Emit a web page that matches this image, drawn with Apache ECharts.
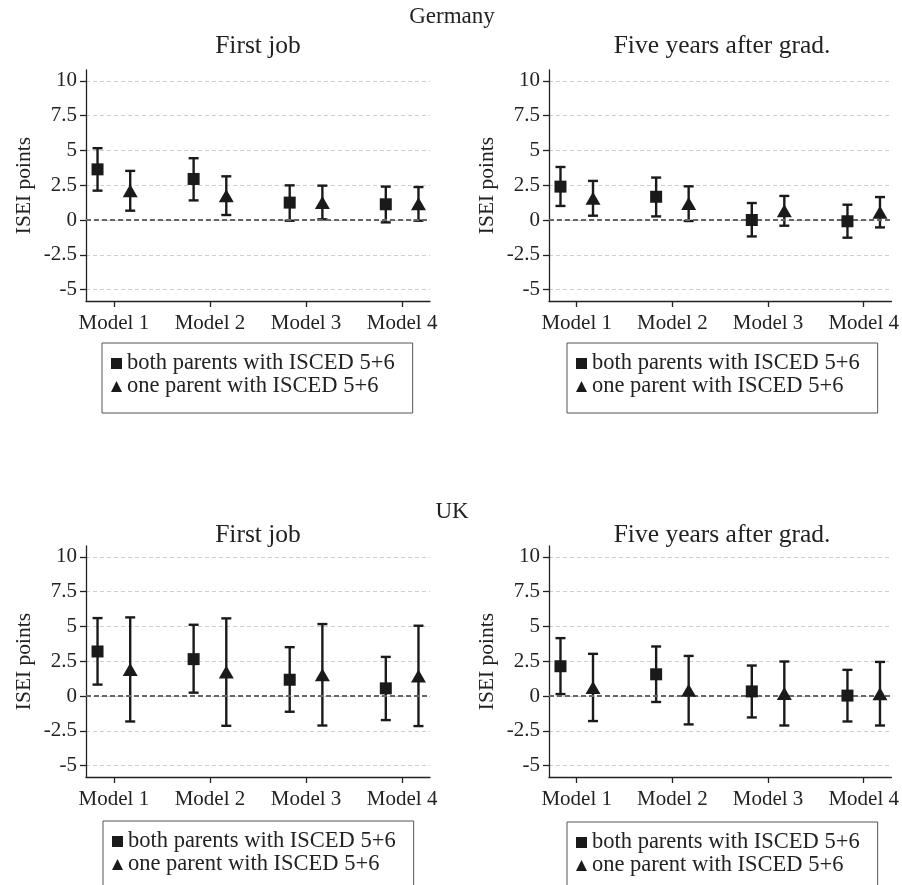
<!DOCTYPE html>
<html>
<head>
<meta charset="utf-8">
<script src="https://cdn.jsdelivr.net/npm/echarts@6/dist/echarts.min.js"></script>
<style>html,body{margin:0;padding:0;background:#fff;}#chart{width:902px;height:885px;}</style>
</head>
<body>
<div id="chart"></div>
<script>
// ---- data ----
const models = ['Model 1', 'Model 2', 'Model 3', 'Model 4'];
const yTicks = [-5, -2.5, 0, 2.5, 5, 7.5, 10];
const seriesNames = ['both parents with ISCED 5+6', 'one parent with ISCED 5+6'];
const countries = ['Germany', 'UK'];
const panelTitles = ['First job', 'Five years after grad.'];

// Germany, first job
const deFirstBoth = [3.64, 2.95, 1.25, 1.13];
const deFirstBothLo = [2.11, 1.41, -0.05, -0.17];
const deFirstBothHi = [5.16, 4.44, 2.49, 2.40];
const deFirstOne = [2.10, 1.75, 1.26, 1.16];
const deFirstOneLo = [0.67, 0.36, 0.05, -0.05];
const deFirstOneHi = [3.53, 3.14, 2.47, 2.37];
// Germany, five years after graduation
const deFiveBoth = [2.40, 1.67, 0.00, -0.09];
const deFiveBothLo = [1.01, 0.26, -1.18, -1.27];
const deFiveBothHi = [3.81, 3.05, 1.22, 1.10];
const deFiveOne = [1.56, 1.18, 0.66, 0.56];
const deFiveOneLo = [0.31, -0.07, -0.41, -0.53];
const deFiveOneHi = [2.81, 2.42, 1.73, 1.65];
// UK, first job
const ukFirstBoth = [3.20, 2.65, 1.17, 0.55];
const ukFirstBothLo = [0.82, 0.24, -1.13, -1.73];
const ukFirstBothHi = [5.60, 5.12, 3.51, 2.81];
const ukFirstOne = [1.91, 1.72, 1.53, 1.44];
const ukFirstOneLo = [-1.83, -2.14, -2.12, -2.16];
const ukFirstOneHi = [5.65, 5.58, 5.17, 5.05];
// UK, five years after graduation
const ukFiveBoth = [2.14, 1.56, 0.33, 0.03];
const ukFiveBothLo = [0.14, -0.43, -1.54, -1.83];
const ukFiveBothHi = [4.16, 3.56, 2.19, 1.88];
const ukFiveOne = [0.61, 0.42, 0.18, 0.17];
const ukFiveOneLo = [-1.80, -2.04, -2.12, -2.12];
const ukFiveOneHi = [3.03, 2.88, 2.48, 2.45];

// ---- layout / style ----
const FONT = '"Liberation Serif", "Times New Roman", serif';
const INK = '#1a1a1a';
const OFFSET = 0.17;
const panels = [
  {grid: {left: 86, top: 70, width: 344, height: 231}, both: [deFirstBoth, deFirstBothLo, deFirstBothHi], one: [deFirstOne, deFirstOneLo, deFirstOneHi]},
  {grid: {left: 549, top: 70, width: 345, height: 231}, both: [deFiveBoth, deFiveBothLo, deFiveBothHi], one: [deFiveOne, deFiveOneLo, deFiveOneHi]},
  {grid: {left: 86, top: 546, width: 344, height: 231}, both: [ukFirstBoth, ukFirstBothLo, ukFirstBothHi], one: [ukFirstOne, ukFirstOneLo, ukFirstOneHi]},
  {grid: {left: 549, top: 546, width: 345, height: 231}, both: [ukFiveBoth, ukFiveBothLo, ukFiveBothHi], one: [ukFiveOne, ukFiveOneLo, ukFiveOneHi]}
];
const modelPos = models.map((m, i) => i + 1);

const grids = [], xAxes = [], yAxes = [], series = [];
panels.forEach((p, k) => {
  grids.push(Object.assign({containLabel: false}, p.grid));
  xAxes.push({
    type: 'value', gridIndex: k, min: 0.71, max: 4.29,
    axisLine: {show: true, onZero: false, lineStyle: {color: '#222', width: 1.3}},
    axisTick: {show: true, length: 6, customValues: modelPos, lineStyle: {color: '#222', width: 1.3}},
    axisLabel: {customValues: modelPos, formatter: v => models[Math.round(v) - 1] || '', fontFamily: FONT, fontSize: 21, color: '#222', margin: 12},
    splitLine: {show: false}
  });
  yAxes.push({
    type: 'value', gridIndex: k, min: -5.82, max: 10.78,
    name: 'ISEI points', nameLocation: 'middle', nameGap: 51,
    nameTextStyle: {fontFamily: FONT, fontSize: 21.5, color: '#222'},
    axisLine: {show: true, onZero: false, lineStyle: {color: '#222', width: 1.3}},
    axisTick: {show: true, length: 6, customValues: yTicks, lineStyle: {color: '#222', width: 1.3}},
    axisLabel: {customValues: yTicks, formatter: v => String(v), fontFamily: FONT, fontSize: 21, color: '#222', margin: 9},
    splitLine: {show: true, lineStyle: {color: '#cfcfcf', type: [4, 3], width: 1}}
  });
  // zero reference line
  series.push({
    type: 'line', xAxisIndex: k, yAxisIndex: k, data: [], z: 1, silent: true,
    markLine: {silent: true, symbol: 'none', label: {show: false},
      lineStyle: {color: '#666', type: [5, 3], width: 2},
      data: [{yAxis: 0}]}
  });
  [[p.both, -OFFSET, 0, 'rect', 12], [p.one, OFFSET, 1, 'triangle', [15, 13]]].forEach(([d, off, si, sym, size]) => {
    const [est, lo, hi] = d;
    series.push({
      type: 'custom', name: seriesNames[si] + ' CI', xAxisIndex: k, yAxisIndex: k, z: 3,
      data: est.map((v, i) => [modelPos[i] + off, lo[i], hi[i]]),
      renderItem: (params, api) => {
        const x = api.value(0);
        const top = api.coord([x, api.value(2)]);
        const bot = api.coord([x, api.value(1)]);
        const cap = 5;
        const st = {stroke: INK, lineWidth: 2.4};
        return {type: 'group', children: [
          {type: 'line', shape: {x1: top[0], y1: top[1], x2: bot[0], y2: bot[1]}, style: st},
          {type: 'line', shape: {x1: top[0] - cap, y1: top[1], x2: top[0] + cap, y2: top[1]}, style: st},
          {type: 'line', shape: {x1: bot[0] - cap, y1: bot[1], x2: bot[0] + cap, y2: bot[1]}, style: st}
        ]};
      }
    });
    series.push({
      type: 'scatter', name: seriesNames[si], xAxisIndex: k, yAxisIndex: k, z: 5,
      symbol: sym, symbolSize: size, itemStyle: {color: INK, opacity: 1},
      data: est.map((v, i) => [modelPos[i] + off, v])
    });
  });
});

const legendPos = [[102, 343], [567, 343], [103, 821], [567, 822]];
const legends = legendPos.map(([l, t]) => ({
  left: l, top: t, orient: 'vertical', height: 120, width: 400,
  data: [{name: seriesNames[0], icon: 'rect'}, {name: seriesNames[1], icon: 'triangle'}],
  itemWidth: 11, itemHeight: 11, itemGap: 0,
  padding: [9, 18, 15, 9],
  borderColor: '#555', borderWidth: 1, selectedMode: false,
  textStyle: {fontFamily: FONT, fontSize: 22.5, color: '#222', lineHeight: 22}
}));

const texts = [
  {x: 452, y: 17, t: countries[0], s: 23},
  {x: 258, y: 46, t: panelTitles[0], s: 25.5},
  {x: 722, y: 46, t: panelTitles[1], s: 25.5},
  {x: 452, y: 512, t: countries[1], s: 23},
  {x: 258, y: 535, t: panelTitles[0], s: 25.5},
  {x: 722, y: 535, t: panelTitles[1], s: 25.5}
];
const graphic = texts.map(o => ({
  type: 'text', x: o.x, y: o.y, silent: true,
  style: {text: o.t, fontFamily: FONT, fontSize: o.s, fill: '#222', textAlign: 'center', textVerticalAlign: 'middle'}
}));

const chart = echarts.init(document.getElementById('chart'), null, {renderer: 'canvas'});
chart.setOption({
  animation: false,
  backgroundColor: '#fff',
  grid: grids, xAxis: xAxes, yAxis: yAxes, series: series,
  legend: legends, graphic: graphic
});
</script>
</body>
</html>
